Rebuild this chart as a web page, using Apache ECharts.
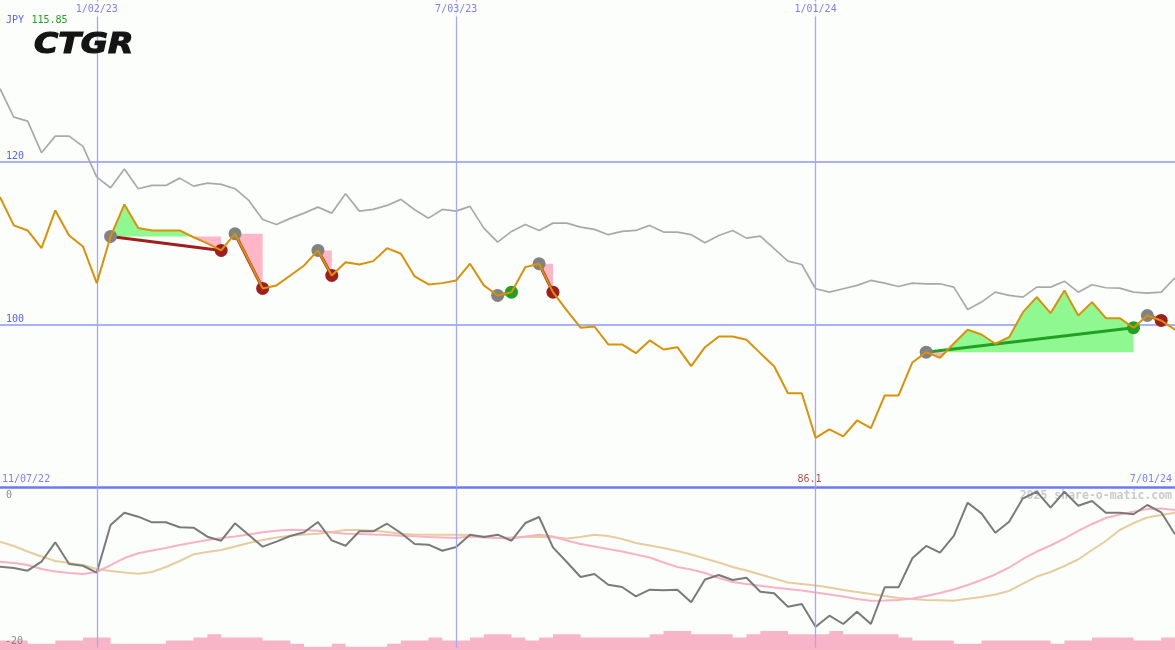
<!DOCTYPE html>
<html><head><meta charset="utf-8">
<script src="https://cdn.jsdelivr.net/npm/echarts@6/dist/echarts.min.js"></script>
<style>html,body{margin:0;padding:0;background:#fcfefc}#c{width:1175px;height:650px}</style>
</head><body><div id="c"></div>
<script>
// ---- data (weekly, index 0 = left edge) ----
const price = [115.62,112.15,111.53,109.36,113.99,110.92,109.57,105.07,110.8,114.72,
111.82,111.53,111.53,111.53,110.7,109.94,109.08,111.13,107.85,104.42,
104.79,106.01,107.24,109.08,106.01,107.64,107.36,107.77,109.36,108.67,
105.89,104.91,105.07,105.40,107.45,104.79,103.56,103.96,107.03,107.45,
103.96,101.72,99.60,99.75,97.55,97.55,96.48,98.04,96.93,97.21,
94.88,97.21,98.53,98.53,98.12,96.48,94.88,91.57,91.57,86.1,
87.12,86.26,88.22,87.28,91.29,91.29,95.34,96.60,95.91,97.67,
99.35,98.77,97.63,98.44,101.51,103.35,101.39,104.17,101.10,102.74,
100.77,100.77,99.60,101.10,100.49,99.35];
const bench = [128.92,125.44,124.94,121.07,123.10,123.10,121.84,118.07,116.77,119.06,
116.65,117.06,117.06,117.95,116.97,117.34,117.18,116.65,115.21,112.88,
112.27,113.01,113.66,114.39,113.66,116.04,113.90,114.11,114.60,115.34,
114.07,113.04,114.11,113.90,114.48,111.82,110.10,111.41,112.27,111.53,
112.43,112.43,111.94,111.66,111.01,111.41,111.53,112.15,111.33,111.33,
111.01,110.02,110.92,111.53,110.59,110.83,109.29,107.77,107.36,104.38,
103.96,104.38,104.79,105.40,105.07,104.66,105.07,104.99,104.99,104.58,
101.84,102.74,103.96,103.56,103.35,104.58,104.58,105.31,103.96,104.87,
104.50,104.45,103.96,103.84,103.96,105.73];
const osc = [-9.81,-9.97,-10.31,-9.18,-6.74,-9.47,-9.69,-10.57,-4.56,-3.01,
-3.51,-4.22,-4.22,-4.85,-4.90,-6.03,-6.54,-4.35,-5.82,-7.29,
-6.66,-5.94,-5.48,-4.18,-6.49,-7.17,-5.35,-5.35,-4.40,-5.57,
-6.95,-7.04,-7.80,-7.33,-5.78,-6.07,-5.78,-6.54,-4.31,-3.55,
-7.37,-9.22,-11.11,-10.73,-12.08,-12.37,-13.54,-12.71,-12.78,-12.71,
-14.29,-11.42,-10.86,-11.49,-11.20,-12.96,-13.16,-14.85,-14.51,-17.37,
-15.98,-17.03,-15.48,-17.03,-12.41,-12.41,-8.75,-7.20,-8.05,-5.94,
-1.75,-3.09,-5.53,-4.14,-1.20,-0.37,-2.38,-0.37,-2.13,-1.54,
-3.01,-3.01,-3.21,-2.04,-2.96,-5.73];
const oscFast = [-9.18,-9.35,-9.60,-10.10,-10.42,-10.60,-10.73,-10.48,-9.60,-8.72,
-8.12,-7.77,-7.46,-7.08,-6.76,-6.45,-6.20,-6.01,-5.76,-5.48,
-5.28,-5.15,-5.19,-5.28,-5.50,-5.65,-5.69,-5.76,-5.82,-5.91,
-5.98,-6.07,-6.13,-6.20,-6.01,-6.13,-6.20,-6.26,-6.01,-5.78,
-6.01,-6.51,-6.95,-7.27,-7.58,-7.90,-8.27,-8.65,-9.28,-9.85,
-10.16,-10.60,-11.23,-11.74,-11.99,-12.20,-12.43,-12.62,-12.81,-13.06,
-13.31,-13.56,-13.88,-14.09,-14.07,-14.01,-13.82,-13.50,-13.12,-12.68,
-12.12,-11.49,-10.79,-9.91,-8.84,-7.90,-7.14,-6.26,-5.31,-4.43,
-3.68,-3.24,-2.88,-2.54,-2.48,-2.67];
const oscSlow = [-6.66,-7.20,-7.90,-8.53,-9.09,-9.35,-9.60,-10.10,-10.35,-10.54,
-10.71,-10.48,-9.85,-9.09,-8.25,-7.96,-7.71,-7.27,-6.83,-6.45,
-6.13,-5.91,-5.76,-5.67,-5.44,-5.19,-5.19,-5.28,-5.44,-5.65,
-5.76,-5.78,-5.78,-5.78,-5.82,-6.01,-6.20,-6.13,-6.07,-6.07,
-6.11,-6.26,-6.07,-5.78,-5.94,-6.32,-6.83,-7.14,-7.46,-7.83,
-8.27,-8.78,-9.28,-9.85,-10.29,-10.79,-11.30,-11.80,-11.99,-12.18,
-12.43,-12.75,-13.00,-13.25,-13.50,-13.75,-13.88,-14.01,-14.04,-14.09,
-13.84,-13.63,-13.31,-12.87,-11.93,-11.05,-10.48,-9.72,-8.90,-7.71,
-6.57,-5.19,-4.31,-3.61,-3.30,-3.01];
const volume = [3,3,2,2,3,3,4,4,2,2,
2,2,3,3,4,5,4,4,4,3,
3,2,1,1,2,1,1,1,2,3,
3,4,3,3,4,5,5,4,3,4,
5,5,4,4,4,4,4,5,6,6,
5,5,5,4,5,6,6,5,5,5,
6,5,5,5,5,4,3,3,3,2,
2,3,3,3,3,3,2,3,3,4,
4,4,3,3,4,4];
const trades = [[8,16],[17,19],[23,24],[36,37],[39,40],[67,82],[83,84]]; // [entry week, exit week]
const tickWeeks = [7,33,59];
const tickLabels = ['1/02/23','7/03/23','1/01/24'];
const edgeWeeks = [0,85];
const edgeLabels = ['11/07/22','7/01/24'];
const mainTicks = [100,120];
const oscTicks = [0,-20];
const currency = 'JPY';
const lastQuote = '115.85';
const ticker = 'CTGR';

// ---- styles ----
const BG = '#fcfefc';
const MONO = '"DejaVu Sans Mono", monospace';
const BLUE_TXT = '#5762ee';
const GRID_LINE = '#aab2f6';
const V_LINE = '#a2aaf4';
const ORANGE = '#d89208';
const GREEN_FILL = '#90f890';
const PINK_FILL = '#ffb6c6';
const LOSS = '#a01e1e';
const WIN = '#22a022';
const MAIN_MIN = 80, MAIN_MAX = 139.8;

const idx = price.map((_, i) => i);
const pairs = arr => idx.map(i => [i, arr[i]]);
let minIdx = 0;
price.forEach((v, i) => { if (v < price[minIdx]) minIdx = i; });

function fillPolys(e, x, L) {
  const polys = [];
  let cur = null;
  for (let k = e; k < x; k++) {
    const a = price[k], b = price[k + 1];
    const sa = Math.sign(a - L), sb = Math.sign(b - L);
    if (!cur) cur = { s: sa || sb, pts: [[k, L], [k, a]] };
    if (sa !== 0 && sb !== 0 && sa !== sb) {
      const xc = k + (a - L) / (a - b);
      cur.pts.push([xc, L]);
      polys.push(cur);
      cur = { s: sb, pts: [[xc, L]] };
    }
    cur.pts.push([k + 1, b]);
  }
  cur.pts.push([x, L]);
  polys.push(cur);
  return polys;
}

const chart = echarts.init(document.getElementById('c'), null, { renderer: 'canvas' });
const txt = (c, extra) => Object.assign({ show: true, color: c, fontFamily: MONO, fontSize: 10, textBorderWidth: 0 }, extra || {});

const mainLabelData = [
  ...tickWeeks.map((w, k) => ({ value: [w, MAIN_MAX], label: txt(BLUE_TXT, { formatter: tickLabels[k], offset: [0, 9], backgroundColor: BG, padding: [2, 2, 3, 2] }) })),
  { value: [edgeWeeks[0], MAIN_MIN], label: txt(BLUE_TXT, { formatter: edgeLabels[0], align: 'left', offset: [2, -8] }) },
  { value: [edgeWeeks[1], MAIN_MIN], label: txt(BLUE_TXT, { formatter: edgeLabels[1], align: 'right', offset: [-3, -8] }) },
  { value: [minIdx, MAIN_MIN], label: txt(LOSS, { formatter: price[minIdx].toFixed(1), offset: [-6, -8] }) }
];
const oscLabelData = [
  { value: [0, oscTicks[0]], label: txt('#6a6a6a', { formatter: String(oscTicks[0]), align: 'left', offset: [6, 7] }) },
  { value: [0, oscTicks[1]], label: txt('#6a6a6a', { formatter: String(oscTicks[1]), align: 'left', offset: [5, -6] }) }
];

const hiddenX = (gi) => ({ type: 'value', gridIndex: gi, min: 0, max: price.length - 1, show: false });

chart.setOption({
  animation: false,
  backgroundColor: BG,
  grid: [
    { left: 0, right: 0, top: 0, height: 487.5, outerBoundsMode: 'none' },
    { left: 0, right: 0, top: 488.8, height: 158.8, outerBoundsMode: 'none' },
    { left: 0, right: 0, top: 488, bottom: 0, outerBoundsMode: 'none' }
  ],
  xAxis: [
    { type: 'value', gridIndex: 0, min: 0, max: price.length - 1, position: 'bottom',
      axisLine: { show: true, onZero: false, lineStyle: { color: '#6e78f0', width: 2.5 } },
      axisTick: { show: false }, axisLabel: { show: false }, splitLine: { show: false } },
    hiddenX(1), hiddenX(2)
  ],
  yAxis: [
    { type: 'value', gridIndex: 0, min: MAIN_MIN, max: MAIN_MAX, interval: 20,
      axisLine: { show: false }, axisTick: { show: false },
      axisLabel: { inside: true, margin: 6, verticalAlign: 'bottom', color: BLUE_TXT, fontFamily: MONO, fontSize: 10,
        formatter: v => mainTicks.includes(v) ? String(v) : '' },
      splitLine: { show: true, showMinLine: false, showMaxLine: false, lineStyle: { color: GRID_LINE, width: 2 } } },
    { type: 'value', gridIndex: 1, min: -20, max: 0, show: false },
    { type: 'value', gridIndex: 2, min: 0, max: 51.4, show: false }
  ],
  series: [
    { type: 'line', name: 'bench', xAxisIndex: 0, yAxisIndex: 0, data: pairs(bench), symbol: 'none', z: 2,
      lineStyle: { color: '#a9a9a9', width: 1.7 },
      markLine: { silent: true, symbol: ['none', 'none'], label: { show: false },
        lineStyle: { color: V_LINE, width: 1.3, type: 'solid' },
        data: tickWeeks.map(w => ({ xAxis: w })) } },
    { type: 'custom', name: 'trades', xAxisIndex: 0, yAxisIndex: 0, z: 3, clip: false,
      data: trades.map(t => [t[0], price[t[0]], t[1], price[t[1]]]),
      encode: { x: [0, 2], y: [1, 3] },
      renderItem: function (params, api) {
        const t = trades[params.dataIndex];
        const e = t[0], x = t[1], L = price[e], X = price[x];
        const win = X > L;
        const ch = [];
        fillPolys(e, x, L).forEach(p => ch.push({ type: 'polygon',
          shape: { points: p.pts.map(q => api.coord(q)) },
          style: { fill: p.s > 0 ? GREEN_FILL : PINK_FILL } }));
        const p0 = api.coord([e, L]), p1 = api.coord([x, X]);
        ch.push({ type: 'line', shape: { x1: p0[0], y1: p0[1], x2: p1[0], y2: p1[1] },
          style: { stroke: win ? WIN : LOSS, lineWidth: 3 } });
        ch.push({ type: 'circle', shape: { cx: p0[0], cy: p0[1], r: 6.5 }, style: { fill: '#828282' } });
        ch.push({ type: 'circle', shape: { cx: p1[0], cy: p1[1], r: 6.5 }, style: { fill: win ? WIN : LOSS } });
        return { type: 'group', children: ch };
      } },
    { type: 'line', name: 'price', xAxisIndex: 0, yAxisIndex: 0, data: pairs(price), symbol: 'none', z: 5,
      lineStyle: { color: ORANGE, width: 2 } },
    { type: 'scatter', name: 'mainLabels', xAxisIndex: 0, yAxisIndex: 0, z: 6, clip: false, silent: true,
      symbolSize: 1, itemStyle: { color: 'rgba(0,0,0,0)' }, label: { show: true, position: 'inside' },
      data: mainLabelData },
    { type: 'line', name: 'oscSlow', xAxisIndex: 1, yAxisIndex: 1, data: pairs(oscSlow), symbol: 'none', z: 2,
      lineStyle: { color: '#e6cd9e', width: 2 },
      markLine: { silent: true, symbol: ['none', 'none'], label: { show: false },
        lineStyle: { color: V_LINE, width: 1.3, type: 'solid' },
        data: tickWeeks.map(w => ({ xAxis: w })) } },
    { type: 'line', name: 'oscFast', xAxisIndex: 1, yAxisIndex: 1, data: pairs(oscFast), symbol: 'none', z: 2,
      lineStyle: { color: '#f8b2c6', width: 2 } },
    { type: 'line', name: 'volume', xAxisIndex: 2, yAxisIndex: 2, data: pairs(volume), symbol: 'none', z: 3,
      step: 'end', lineStyle: { width: 0, color: '#f9b5c8' }, areaStyle: { color: '#f9b5c8', opacity: 1 } },
    { type: 'line', name: 'osc', xAxisIndex: 1, yAxisIndex: 1, data: pairs(osc), symbol: 'none', z: 4,
      lineStyle: { color: '#7a7a7a', width: 2 } },
    { type: 'scatter', name: 'oscLabels', xAxisIndex: 1, yAxisIndex: 1, z: 6, clip: false, silent: true,
      symbolSize: 1, itemStyle: { color: 'rgba(0,0,0,0)' }, label: { show: true, position: 'inside' },
      data: oscLabelData }
  ],
  graphic: [
    { type: 'text', x: 6, y: 15, z: 10, style: { text: currency, font: '10px ' + MONO, fill: BLUE_TXT } },
    { type: 'text', x: 31.5, y: 15, z: 10, style: { text: lastQuote, font: '10px ' + MONO, fill: '#22a022' } },
    { type: 'text', x: 34, y: 32, scaleX: 1.18, z: 10, style: { text: ticker, font: 'italic bold 28px "DejaVu Sans"', fill: '#141414', stroke: '#141414', lineWidth: 1.2 } },
    { type: 'text', right: 3, top: 490, z: 0, style: { text: '2025 share-o-matic.com', font: 'bold 11.5px ' + MONO, fill: '#cacaca' } }
  ]
});
</script>
</body></html>
